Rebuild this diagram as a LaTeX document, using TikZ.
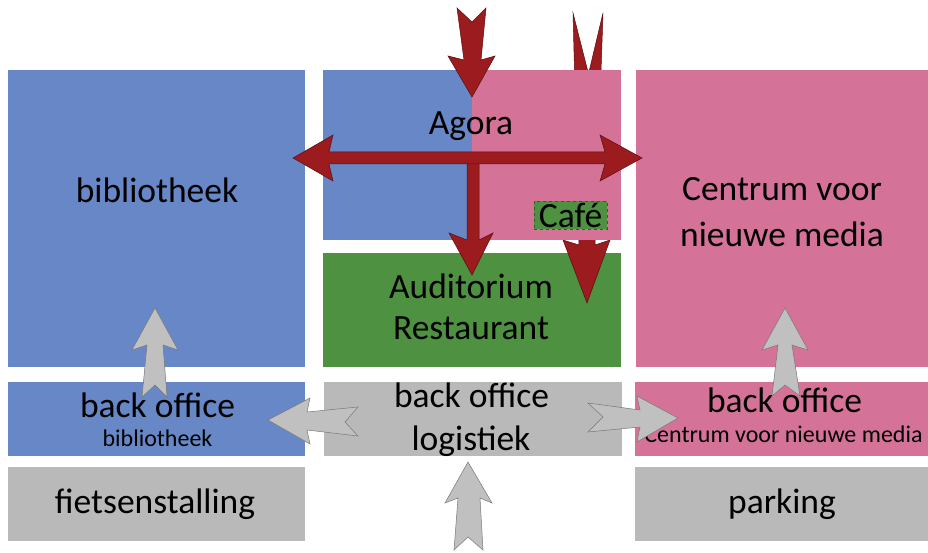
\documentclass[tikz,border=0pt]{standalone}
\usepackage{fontspec}
\setmainfont{Carlito}
\definecolor{cblue}{RGB}{103,135,198}
\definecolor{cpink}{RGB}{212,115,151}
\definecolor{cgreen}{RGB}{78,145,64}
\definecolor{cgray}{RGB}{185,185,185}
\definecolor{cred}{RGB}{155,27,30}
\definecolor{credline}{RGB}{90,15,18}
\definecolor{agray}{RGB}{192,192,192}
\definecolor{agrayline}{RGB}{120,120,120}
\tikzset{
  bigtext/.style={font=\fontsize{35.5}{42}\selectfont, inner sep=0pt, anchor=base},
  smalltext/.style={font=\fontsize{24}{29}\selectfont, inner sep=0pt, anchor=base},
  redarrow/.style={fill=cred, draw=credline, line width=0.5pt, line join=miter},
  grayarrow/.style={fill=agray, draw=agrayline, line width=0.5pt, line join=miter},
}
\begin{document}
\begin{tikzpicture}[x=1pt,y=-1pt]
\useasboundingbox (0,0) rectangle (928,553);
\fill[white] (0,0) rectangle (928,553);
% boxes
\fill[cblue] (8,70) rectangle (305,367);
\fill[cgreen] (323,253) rectangle (621,367);
% Cafe arrow (behind Agora)
\draw[redarrow] (573,13) -- (588.5,74) -- (603,13) -- (595,245) -- (610,240) -- (587,303) -- (563,240) -- (579,245) -- cycle;
\fill[cblue] (323,70) rectangle (472,240);
\fill[cpink] (472,70) rectangle (621,240);
\fill[cpink] (636,70) rectangle (928,367);
\fill[cblue] (8,382) rectangle (305,456);
\fill[cgray] (324,382) rectangle (622,456);
\fill[cpink] (635,382) rectangle (928,456);
\fill[cgray] (8,467) rectangle (305,541);
\fill[cgray] (635,467) rectangle (928,541);
% Cafe box
\node[fill=cgreen, draw=black!70, dashed, line width=0.6pt, minimum width=73pt, minimum height=28pt, inner sep=0pt] (cafebox) at (570.5,215) {};
\node[bigtext] (cafe) at (570.5,228) {Café};
% texts
\node[bigtext] (bib) at (157,203) {bibliotheek};
\node[bigtext] (agora) at (471,135) {Agora};
\node[bigtext] (cnm1) at (782,201) {Centrum voor};
\node[bigtext] (cnm2) at (782,247) {nieuwe media};
\node[bigtext] (aud1) at (471,298) {Auditorium};
\node[bigtext] (aud2) at (471,339) {Restaurant};
\node[bigtext] (bob1) at (157.5,417) {back office};
\node[smalltext] (bob2) at (157.5,446) {bibliotheek};
\node[bigtext] (bol1) at (471.5,407) {back office};
\node[bigtext] (bol2) at (471,450) {logistiek};
\node[bigtext] (boc1) at (784.5,412) {back office};
\node[smalltext] (boc2) at (783.5,442) {Centrum voor nieuwe media};
\node[bigtext] (fiets) at (155,513) {fietsenstalling};
\node[bigtext] (park) at (782,513) {parking};
% red arrows
\draw[redarrow] (457,8) -- (472,22) -- (486,8) -- (481,60) -- (495,56) -- (472,97) -- (448,56) -- (464,60) -- cycle;
\draw[redarrow] (467,160) -- (479,160) -- (479,240) -- (493,233) -- (472,275) -- (449,233) -- (467,240) -- cycle;
\draw[redarrow] (293,158) -- (333,135) -- (329,152) -- (605,152) -- (600,135) -- (642,158) -- (600,181) -- (605,164) -- (329,164) -- (333,181) -- cycle;
% gray arrows
\draw[grayarrow] (155,308) -- (178,350) -- (163,345) -- (167,397) -- (155,385) -- (142,397) -- (147,345) -- (132,350) -- cycle;
\draw[grayarrow] (785,308) -- (808,350) -- (792,345) -- (800,396) -- (785,385) -- (772,396) -- (778,345) -- (762,350) -- cycle;
\draw[grayarrow] (268,420) -- (310,398) -- (307,412) -- (358,407) -- (345,422) -- (358,436) -- (307,430) -- (310,444) -- cycle;
\draw[grayarrow] (588,403) -- (640,410) -- (637,396) -- (678,418) -- (637,442) -- (640,427) -- (588,432) -- (603,417) -- cycle;
\draw[grayarrow] (468,462) -- (492,503) -- (480,498) -- (483,550) -- (468,537) -- (454,550) -- (458,498) -- (445,503) -- cycle;
\end{tikzpicture}
\end{document}
